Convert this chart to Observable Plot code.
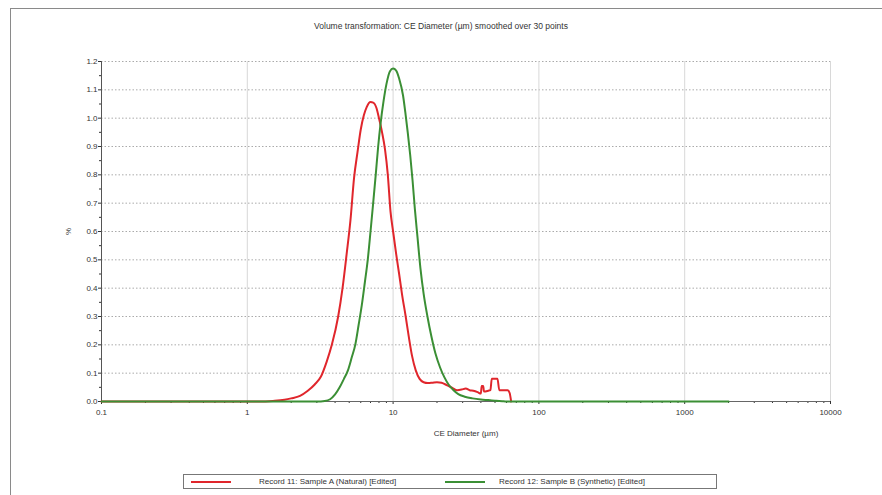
<!DOCTYPE html>
<html>
<head>
<meta charset="utf-8">
<script src="https://cdn.jsdelivr.net/npm/d3@7"></script>
<script src="https://cdn.jsdelivr.net/npm/@observablehq/plot@0.6"></script>
<style>
  html, body { margin: 0; padding: 0; background: #fff; }
  #wrap { position: relative; width: 882px; height: 495px; overflow: hidden; font-family: "Liberation Sans", Arial, sans-serif; }
  #frame { position: absolute; left: 10px; top: 8px; width: 900px; height: 520px; border: 1.5px solid #8a8a8a; box-sizing: border-box; }
  #title { position: absolute; left: 0; width: 882px; top: 21px; text-align: center; font-size: 8.5px; color: #333; }
  #legend { position: absolute; left: 183px; top: 474px; width: 534px; height: 15px; border: 1px solid #777; box-sizing: border-box; font-size: 8px; color: #333; display: flex; align-items: center; }
  .sw { display: inline-block; width: 40px; height: 0; border-top: 2px solid; }
  #plot { position: absolute; left: 0; top: 0; }
</style>
</head>
<body>
<div id="wrap">
  <div id="frame"></div>
  <div id="title">Volume transformation: CE Diameter (µm) smoothed over 30 points</div>
  <div id="plot"></div>
  <div id="legend">
    <span class="sw" style="border-color:#e0262c;margin-left:7px;margin-right:28px"></span><span style="width:186px">Record 11: Sample A (Natural) [Edited]</span>
    <span class="sw" style="border-color:#3b8f35;margin-left:0;margin-right:14px"></span><span>Record 12: Sample B (Synthetic) [Edited]</span>
  </div>
</div>
<script>
// Record 11: Sample A (Natural) — red
const sizeA = [0.1, 1.2, 1.5, 1.8, 2.0, 2.3, 2.6, 2.9, 3.2, 3.5, 3.8, 4.2, 4.5, 4.8, 5.1, 5.4, 5.7, 6.0, 6.3, 6.6, 7.0, 7.3, 7.7, 8.0, 8.4, 8.8, 9.2, 9.6, 10.0, 10.5, 11.0, 11.5, 12.2, 12.8, 13.5, 14.3, 15.2, 16.2, 17.3, 18.5, 20.0, 21.5, 23.5, 25.5, 27.5, 29.5, 31.5, 33.5, 35.5, 38.0, 40.0, 40.5, 41.5, 42.0, 45.0, 46.5, 47.5, 52.0, 53.5, 61.0, 63.0, 64.5];
const pctA  = [0, 0, 0.002, 0.006, 0.011, 0.02, 0.038, 0.06, 0.088, 0.14, 0.2, 0.3, 0.4, 0.52, 0.64, 0.79, 0.88, 0.96, 1.01, 1.04, 1.057, 1.055, 1.035, 1.0, 0.95, 0.89, 0.8, 0.67, 0.6, 0.52, 0.45, 0.38, 0.3, 0.23, 0.16, 0.11, 0.08, 0.068, 0.065, 0.066, 0.068, 0.066, 0.057, 0.048, 0.04, 0.042, 0.046, 0.04, 0.038, 0.033, 0.028, 0.055, 0.055, 0.035, 0.038, 0.04, 0.08, 0.08, 0.04, 0.04, 0.03, 0];

// Record 12: Sample B (Synthetic) — green
const sizeB = [0.1, 3.0, 3.4, 3.7, 4.0, 4.3, 4.6, 4.9, 5.2, 5.5, 5.8, 6.1, 6.4, 6.7, 7.0, 7.3, 7.6, 7.9, 8.2, 8.6, 9.0, 9.5, 10.0, 10.5, 11.0, 11.7, 12.2, 12.6, 13.1, 13.6, 14.1, 14.7, 15.4, 16.2, 17.2, 18.3, 19.5, 21.0, 22.5, 24.0, 26.0, 28.0, 31.0, 35.0, 40.0, 45.0, 50.0, 56.0, 60.0, 2000];
const pctB  = [0, 0, 0.002, 0.008, 0.025, 0.05, 0.08, 0.11, 0.155, 0.2, 0.27, 0.34, 0.42, 0.5, 0.6, 0.7, 0.8, 0.9, 0.98, 1.06, 1.12, 1.165, 1.175, 1.168, 1.14, 1.08, 1.01, 0.95, 0.87, 0.78, 0.68, 0.58, 0.47, 0.38, 0.3, 0.23, 0.17, 0.12, 0.085, 0.06, 0.04, 0.026, 0.017, 0.011, 0.007, 0.005, 0.003, 0.001, 0, 0];

// Axis ticks
const xTicks = [0.1, 1, 10, 100, 1000, 10000];
const xTickLabels = ["0.1", "1", "10", "100", "1000", "10000"];
const yTicks = [0, 0.1, 0.2, 0.3, 0.4, 0.5, 0.6, 0.7, 0.8, 0.9, 1.0, 1.1, 1.2];

const dataA = sizeA.map((s, i) => ({size: s, pct: pctA[i]}));
const dataB = sizeB.map((s, i) => ({size: s, pct: pctB[i]}));
const xMinor = [];
for (let d = 0.1; d < 10000; d *= 10) for (let k = 2; k <= 9; k++) xMinor.push(+(d * k).toPrecision(3));
const yMinor = yTicks.slice(0, -1).map(v => +(v + 0.05).toFixed(2));

const chart = Plot.plot({
  width: 882,
  height: 495,
  marginLeft: 101,
  marginRight: 52,
  marginTop: 61,
  marginBottom: 94,
  style: {fontFamily: "'Liberation Sans', Arial, sans-serif", fontSize: "8px", color: "#333", background: "transparent"},
  x: {type: "log", domain: [0.1, 10000]},
  y: {domain: [0, 1.2]},
  marks: [
    Plot.gridY({ticks: yTicks.slice(1), stroke: "#aaa", strokeOpacity: 1, strokeDasharray: "1.5,2"}),
    Plot.gridX({ticks: xTicks.slice(1), stroke: "#d8d8d8", strokeOpacity: 1}),
    Plot.axisY({ticks: yMinor, tickSize: 2, tickFormat: () => "", label: null}),
    Plot.axisY({ticks: yTicks, tickSize: 3, tickPadding: 1, tickFormat: d3.format(".1f"),
      label: "%", labelAnchor: "center", labelArrow: "none", labelOffset: 36}),
    Plot.axisX({ticks: xMinor, tickSize: 2, tickFormat: () => "", label: null}),
    Plot.axisX({ticks: xTicks, tickSize: 3, tickPadding: 5, tickFormat: (d) => xTickLabels[xTicks.indexOf(d)],
      label: "CE Diameter (µm)", labelAnchor: "center", labelArrow: "none", labelOffset: 34}),
    Plot.ruleX([0.1], {stroke: "#555"}),
    Plot.ruleY([0], {stroke: "#666"}),
    Plot.line(dataA, {x: "size", y: "pct", stroke: "#e0262c", strokeWidth: 2, curve: "monotone-x"}),
    Plot.line(dataB, {x: "size", y: "pct", stroke: "#3b8f35", strokeWidth: 2, curve: "monotone-x"})
  ]
});
document.getElementById("plot").appendChild(chart);
</script>
</body>
</html>
